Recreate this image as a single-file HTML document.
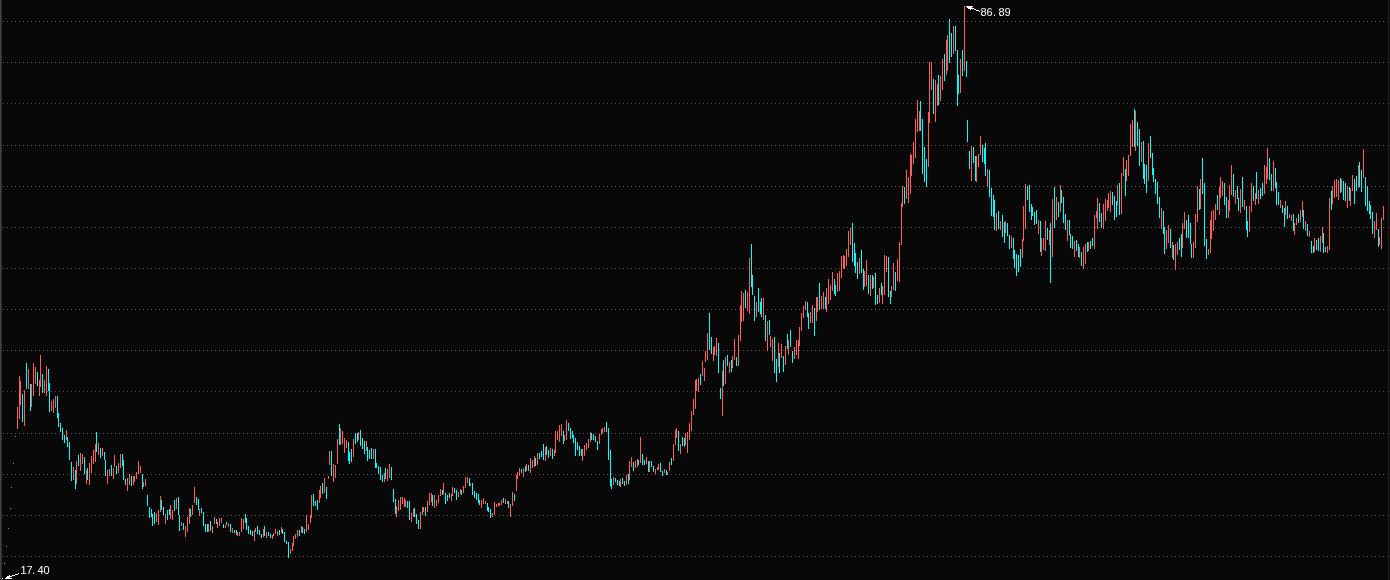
<!DOCTYPE html>
<html lang="zh">
<head>
<meta charset="utf-8">
<title>K线图</title>
<style>
html,body{margin:0;padding:0;background:#080808;}
body{width:1390px;height:580px;overflow:hidden;position:relative;font-family:"Liberation Mono","Noto Sans CJK SC",monospace;}
svg{position:absolute;left:0;top:0;display:block;}
.lbl{font-family:"Liberation Sans","Noto Sans CJK SC",sans-serif;font-size:11px;fill:#ffffff;}
</style>
</head>
<body>
<svg width="1390" height="580" viewBox="0 0 1390 580" shape-rendering="crispEdges">
<rect width="1390" height="580" fill="#080808"/>
<rect x="0" y="0" width="1" height="580" fill="#414141"/><rect x="1" y="0" width="1" height="580" fill="#2e2e2e"/>
<rect x="1388" y="0" width="1" height="580" fill="#1e1e1e"/><path fill="#2a2a2a" d="M1389 21h1v1h-1zM1389 62h1v1h-1zM1389 103h1v1h-1zM1389 145h1v1h-1zM1389 186h1v1h-1zM1389 227h1v1h-1zM1389 268h1v1h-1zM1389 309h1v1h-1zM1389 350h1v1h-1zM1389 391h1v1h-1zM1389 433h1v1h-1zM1389 474h1v1h-1zM1389 515h1v1h-1zM1389 556h1v1h-1z"/>
<g stroke="#505050" stroke-width="1" stroke-dasharray="1 3"><line x1="3" x2="1385" y1="21.5" y2="21.5"/><line x1="3" x2="1385" y1="62.5" y2="62.5"/><line x1="3" x2="1385" y1="103.5" y2="103.5"/><line x1="3" x2="1385" y1="145.5" y2="145.5"/><line x1="3" x2="1385" y1="186.5" y2="186.5"/><line x1="3" x2="1385" y1="227.5" y2="227.5"/><line x1="3" x2="1385" y1="268.5" y2="268.5"/><line x1="3" x2="1385" y1="309.5" y2="309.5"/><line x1="3" x2="1385" y1="350.5" y2="350.5"/><line x1="3" x2="1385" y1="391.5" y2="391.5"/><line x1="3" x2="1385" y1="433.5" y2="433.5"/><line x1="3" x2="1385" y1="474.5" y2="474.5"/><line x1="3" x2="1385" y1="515.5" y2="515.5"/><line x1="3" x2="1385" y1="556.5" y2="556.5"/></g>
<path fill="#ff5c5c" d="M15 436h1v1h-1zM13 463h1v1h-1zM11 487h1v1h-1zM10 508h1v1h-1zM8 528h1v1h-1zM6 546h1v1h-1zM4 563h1v1h-1z"/>
<path fill="#00ffff" d="M22 394v28h1v-28zM26 363v26h1v-26zM30 384v27h1v-27zM37 372v14h1v-14zM42 374v19h1v-19zM48 369v22h1v-22zM49 383v29h1v-29zM57 396v22h1v-22zM58 413v14h1v-14zM60 423v9h1v-9zM62 428v12h1v-12zM64 435v8h1v-8zM67 437v10h1v-10zM69 442v18h1v-18zM71 462v19h1v-19zM75 470v19h1v-19zM78 455v11h1v-11zM84 457v17h1v-17zM87 468v12h1v-12zM96 432v20h1v-20zM100 448v10h1v-10zM104 452v8h1v-8zM105 460v16h1v-16zM111 465v11h1v-11zM116 466v8h1v-8zM122 454v12h1v-12zM123 460v20h1v-20zM125 479v6h1v-6zM131 476v10h1v-10zM142 474v15h1v-15zM147 495v11h1v-11zM149 507v11h1v-11zM151 509v8h1v-8zM152 514v12h1v-12zM154 512v12h1v-12zM161 500v10h1v-10zM163 507v8h1v-8zM167 510v10h1v-10zM169 509v6h1v-6zM174 500v11h1v-11zM178 497v18h1v-18zM179 515v16h1v-16zM183 523v7h1v-7zM190 509v8h1v-8zM196 497v8h1v-8zM198 499v11h1v-11zM201 508v5h1v-5zM203 512v14h1v-14zM205 524v8h1v-8zM207 524v8h1v-8zM210 521v10h1v-10zM216 519v5h1v-5zM223 524v4h1v-4zM226 522v3h1v-3zM230 524v8h1v-8zM234 530v3h1v-3zM236 530v5h1v-5zM245 514v9h1v-9zM246 518v12h1v-12zM248 526v8h1v-8zM250 530v5h1v-5zM252 531v5h1v-5zM257 526v8h1v-8zM259 530v5h1v-5zM261 534v4h1v-4zM264 526v10h1v-10zM268 532v4h1v-4zM270 534v4h1v-4zM279 530v5h1v-5zM282 529v5h1v-5zM284 532v10h1v-10zM286 541v3h1v-3zM288 542v16h1v-16zM299 530v6h1v-6zM302 527v6h1v-6zM304 529v5h1v-5zM313 494v12h1v-12zM315 501v5h1v-5zM317 500v10h1v-10zM322 483v11h1v-11zM326 487v12h1v-12zM331 451v25h1v-25zM339 424v21h1v-21zM348 442v19h1v-19zM349 452v12h1v-12zM351 449v13h1v-13zM355 433v11h1v-11zM357 433v9h1v-9zM360 430v16h1v-16zM362 438v11h1v-11zM364 441v13h1v-13zM367 447v14h1v-14zM369 450v9h1v-9zM371 448v11h1v-11zM375 449v19h1v-19zM376 463v5h1v-5zM378 466v8h1v-8zM380 467v13h1v-13zM382 475v7h1v-7zM385 468v11h1v-11zM391 467v13h1v-13zM393 489v13h1v-13zM395 499v15h1v-15zM407 501v7h1v-7zM409 501v19h1v-19zM414 508v9h1v-9zM416 514v10h1v-10zM418 520v9h1v-9zM425 507v9h1v-9zM432 495v11h1v-11zM442 490v5h1v-5zM445 493v11h1v-11zM447 495v6h1v-6zM449 493v5h1v-5zM454 488v5h1v-5zM456 490v10h1v-10zM461 490v5h1v-5zM469 478v8h1v-8zM472 483v12h1v-12zM474 491v7h1v-7zM476 493v7h1v-7zM478 494v9h1v-9zM479 500v5h1v-5zM487 503v8h1v-8zM488 507v5h1v-5zM490 509v9h1v-9zM503 498v5h1v-5zM508 501v7h1v-7zM514 494v7h1v-7zM521 469v4h1v-4zM525 466v6h1v-6zM528 465v6h1v-6zM535 458v8h1v-8zM539 453v6h1v-6zM541 451v6h1v-6zM543 444v16h1v-16zM546 446v9h1v-9zM548 450v8h1v-8zM552 449v10h1v-10zM563 431v13h1v-13zM568 423v8h1v-8zM570 428v11h1v-11zM572 431v7h1v-7zM573 435v8h1v-8zM575 438v18h1v-18zM577 442v8h1v-8zM579 446v10h1v-10zM581 449v7h1v-7zM591 433v7h1v-7zM593 434v6h1v-6zM595 436v6h1v-6zM597 441v9h1v-9zM606 422v10h1v-10zM608 428v32h1v-32zM610 450v36h1v-36zM611 479v10h1v-10zM615 478v4h1v-4zM617 480v5h1v-5zM619 481v5h1v-5zM622 478v6h1v-6zM624 481v5h1v-5zM628 474v10h1v-10zM633 462v9h1v-9zM638 460v5h1v-5zM642 454v11h1v-11zM644 460v5h1v-5zM648 461v11h1v-11zM651 461v6h1v-6zM653 466v6h1v-6zM660 463v9h1v-9zM662 471v5h1v-5zM666 470v5h1v-5zM671 458v7h1v-7zM678 431v20h1v-20zM682 437v9h1v-9zM684 438v9h1v-9zM700 374v11h1v-11zM709 313v37h1v-37zM711 337v17h1v-17zM718 343v30h1v-30zM720 388v11h1v-11zM723 360v26h1v-26zM727 355v11h1v-11zM731 360v12h1v-12zM736 357v9h1v-9zM745 290v18h1v-18zM751 244v43h1v-43zM752 275v20h1v-20zM754 296v25h1v-25zM758 288v24h1v-24zM760 302v12h1v-12zM761 298v19h1v-19zM765 315v26h1v-26zM769 320v15h1v-15zM774 337v36h1v-36zM776 359v23h1v-23zM779 353v20h1v-20zM783 356v16h1v-16zM787 334v15h1v-15zM790 330v17h1v-17zM792 351v12h1v-12zM807 302v15h1v-15zM808 313v16h1v-16zM814 308v28h1v-28zM819 283v27h1v-27zM825 297v12h1v-12zM834 279v15h1v-15zM835 285v11h1v-11zM852 223v39h1v-39zM854 243v23h1v-23zM855 253v20h1v-20zM857 262v17h1v-17zM861 250v23h1v-23zM863 269v21h1v-21zM868 275v19h1v-19zM872 275v14h1v-14zM875 273v32h1v-32zM877 295v9h1v-9zM881 283v12h1v-12zM888 257v40h1v-40zM890 291v13h1v-13zM895 272v19h1v-19zM904 187v17h1v-17zM920 101v30h1v-30zM922 119v55h1v-55zM924 147v35h1v-35zM926 159v28h1v-28zM933 79v35h1v-35zM938 75v30h1v-30zM944 54v27h1v-27zM949 19v44h1v-44zM951 33v24h1v-24zM955 26v25h1v-25zM957 50v56h1v-56zM958 75v19h1v-19zM962 50v26h1v-26zM966 61v16h1v-16zM967 120v22h1v-22zM969 151v18h1v-18zM973 147v16h1v-16zM975 156v25h1v-25zM982 145v17h1v-17zM984 148v16h1v-16zM985 143v33h1v-33zM989 170v27h1v-27zM991 188v28h1v-28zM993 195v22h1v-22zM994 200v30h1v-30zM998 211v18h1v-18zM1002 215v22h1v-22zM1004 222v21h1v-21zM1007 223v13h1v-13zM1009 235v14h1v-14zM1013 238v21h1v-21zM1014 250v18h1v-18zM1016 254v22h1v-22zM1018 255v17h1v-17zM1020 249v18h1v-18zM1027 186v14h1v-14zM1029 185v27h1v-27zM1031 204v16h1v-16zM1032 207v9h1v-9zM1034 212v13h1v-13zM1036 210v14h1v-14zM1040 221v31h1v-31zM1047 228v12h1v-12zM1050 223v60h1v-60zM1054 187v41h1v-41zM1058 202v15h1v-15zM1061 190v13h1v-13zM1063 197v26h1v-26zM1065 214v16h1v-16zM1069 220v15h1v-15zM1070 234v14h1v-14zM1072 236v13h1v-13zM1076 240v11h1v-11zM1078 244v13h1v-13zM1081 252v14h1v-14zM1087 242v10h1v-10zM1090 241v8h1v-8zM1092 238v8h1v-8zM1099 203v19h1v-19zM1101 213v15h1v-15zM1112 192v13h1v-13zM1114 196v24h1v-24zM1116 201v16h1v-16zM1119 183v32h1v-32zM1125 169v27h1v-27zM1134 109v38h1v-38zM1137 122v24h1v-24zM1139 129v37h1v-37zM1143 141v38h1v-38zM1144 164v20h1v-20zM1146 165v28h1v-28zM1150 136v22h1v-22zM1152 153v22h1v-22zM1153 168v14h1v-14zM1155 179v15h1v-15zM1157 182v22h1v-22zM1159 197v21h1v-21zM1163 211v23h1v-23zM1164 227v27h1v-27zM1170 229v19h1v-19zM1173 245v15h1v-15zM1179 238v12h1v-12zM1181 234v23h1v-23zM1186 220v18h1v-18zM1188 215v23h1v-23zM1190 223v21h1v-21zM1191 244v14h1v-14zM1199 189v21h1v-21zM1202 158v36h1v-36zM1204 183v63h1v-63zM1206 239v20h1v-20zM1217 195v15h1v-15zM1224 183v22h1v-22zM1226 197v21h1v-21zM1233 174v23h1v-23zM1237 186v13h1v-13zM1238 198v13h1v-13zM1242 177v30h1v-30zM1246 206v24h1v-24zM1247 221v16h1v-16zM1253 186v15h1v-15zM1256 172v27h1v-27zM1260 188v11h1v-11zM1262 183v13h1v-13zM1269 158v22h1v-22zM1271 174v17h1v-17zM1275 168v20h1v-20zM1276 182v23h1v-23zM1278 192v13h1v-13zM1282 205v8h1v-8zM1284 208v19h1v-19zM1287 206v13h1v-13zM1293 214v17h1v-17zM1298 214v9h1v-9zM1303 210v19h1v-19zM1307 224v12h1v-12zM1311 241v12h1v-12zM1313 246v7h1v-7zM1316 240v10h1v-10zM1318 238v13h1v-13zM1323 233v20h1v-20zM1325 247v5h1v-5zM1331 191v19h1v-19zM1340 178v15h1v-15zM1343 181v19h1v-19zM1345 183v18h1v-18zM1349 187v14h1v-14zM1354 179v25h1v-25zM1356 176v15h1v-15zM1359 162v25h1v-25zM1361 170v22h1v-22zM1365 177v29h1v-29zM1367 186v25h1v-25zM1369 201v13h1v-13zM1370 205v14h1v-14zM1372 212v22h1v-22zM1378 229v18h1v-18z"/>
<path fill="#ff5c5c" d="M17 407v22h1v-22zM19 376v43h1v-43zM20 381v24h1v-24zM24 390v36h1v-36zM28 369v20h1v-20zM31 384v23h1v-23zM33 363v33h1v-33zM35 367v17h1v-17zM39 380v16h1v-16zM40 355v32h1v-32zM44 380v13h1v-13zM46 366v30h1v-30zM51 401v10h1v-10zM53 399v14h1v-14zM55 396v12h1v-12zM66 430v10h1v-10zM73 467v13h1v-13zM76 461v23h1v-23zM80 453v18h1v-18zM82 454v10h1v-10zM86 470v14h1v-14zM89 463v22h1v-22zM91 456v17h1v-17zM93 450v14h1v-14zM95 444v18h1v-18zM98 443v12h1v-12zM102 448v8h1v-8zM107 470v14h1v-14zM109 469v7h1v-7zM113 468v11h1v-11zM114 455v12h1v-12zM118 463v10h1v-10zM120 454v14h1v-14zM127 478v13h1v-13zM129 474v11h1v-11zM133 476v9h1v-9zM134 476v6h1v-6zM136 472v7h1v-7zM138 461v13h1v-13zM140 466v7h1v-7zM143 482v5h1v-5zM145 479v7h1v-7zM156 513v9h1v-9zM158 510v15h1v-15zM160 496v16h1v-16zM165 514v10h1v-10zM170 505v14h1v-14zM172 510v10h1v-10zM176 498v11h1v-11zM181 522v4h1v-4zM185 526v11h1v-11zM187 517v15h1v-15zM189 508v16h1v-16zM192 505v10h1v-10zM194 487v16h1v-16zM199 509v7h1v-7zM208 524v8h1v-8zM212 526v7h1v-7zM214 517v7h1v-7zM217 522v6h1v-6zM219 518v8h1v-8zM221 518v5h1v-5zM225 525v3h1v-3zM228 523v4h1v-4zM232 528v5h1v-5zM237 532v4h1v-4zM239 532v4h1v-4zM241 518v14h1v-14zM243 519v10h1v-10zM254 530v11h1v-11zM255 528v4h1v-4zM263 529v8h1v-8zM266 532v6h1v-6zM272 535v4h1v-4zM273 533v3h1v-3zM275 529v5h1v-5zM277 531v5h1v-5zM281 527v6h1v-6zM290 549v5h1v-5zM292 543v8h1v-8zM293 536v10h1v-10zM295 534v5h1v-5zM297 530v7h1v-7zM301 526v7h1v-7zM306 515v17h1v-17zM308 524v6h1v-6zM310 515v8h1v-8zM311 495v23h1v-23zM319 490v13h1v-13zM320 486v12h1v-12zM324 478v15h1v-15zM328 476v3h1v-3zM329 451v14h1v-14zM333 464v18h1v-18zM335 465v13h1v-13zM337 439v25h1v-25zM340 428v17h1v-17zM342 431v13h1v-13zM344 438v15h1v-15zM346 440v8h1v-8zM353 439v18h1v-18zM358 432v8h1v-8zM366 441v10h1v-10zM373 449v10h1v-10zM384 473v9h1v-9zM387 469v12h1v-12zM389 464v14h1v-14zM396 506v11h1v-11zM398 500v11h1v-11zM400 497v13h1v-13zM402 497v7h1v-7zM404 498v9h1v-9zM405 500v7h1v-7zM411 513v9h1v-9zM413 509v8h1v-8zM420 512v17h1v-17zM422 507v8h1v-8zM423 507v5h1v-5zM427 501v11h1v-11zM429 493v12h1v-12zM431 493v9h1v-9zM434 495v13h1v-13zM436 500v6h1v-6zM438 495v8h1v-8zM440 489v7h1v-7zM443 483v11h1v-11zM451 494v7h1v-7zM452 487v9h1v-9zM458 492v5h1v-5zM460 489v5h1v-5zM463 486v7h1v-7zM465 477v11h1v-11zM467 477v6h1v-6zM470 483v3h1v-3zM481 500v8h1v-8zM483 498v6h1v-6zM485 501v3h1v-3zM492 513v4h1v-4zM494 502v13h1v-13zM496 504v3h1v-3zM498 503v3h1v-3zM499 503v3h1v-3zM501 500v5h1v-5zM505 499v5h1v-5zM507 501v3h1v-3zM510 504v13h1v-13zM512 492v14h1v-14zM516 475v16h1v-16zM517 472v7h1v-7zM519 468v8h1v-8zM523 468v9h1v-9zM526 464v7h1v-7zM530 458v15h1v-15zM532 460v8h1v-8zM534 456v11h1v-11zM537 453v12h1v-12zM545 447v14h1v-14zM550 448v8h1v-8zM554 450v6h1v-6zM555 431v22h1v-22zM557 431v9h1v-9zM559 425v17h1v-17zM561 424v12h1v-12zM564 435v6h1v-6zM566 420v20h1v-20zM582 449v12h1v-12zM584 445v11h1v-11zM586 443v7h1v-7zM588 439v9h1v-9zM590 432v10h1v-10zM599 434v10h1v-10zM601 429v6h1v-6zM602 428v5h1v-5zM604 427v5h1v-5zM613 477v8h1v-8zM620 479v8h1v-8zM626 475v10h1v-10zM629 461v19h1v-19zM631 457v10h1v-10zM635 461v7h1v-7zM637 459v8h1v-8zM640 437v26h1v-26zM646 457v7h1v-7zM649 461v11h1v-11zM655 469v5h1v-5zM657 467v3h1v-3zM658 464v6h1v-6zM664 469v4h1v-4zM667 472v3h1v-3zM669 462v9h1v-9zM673 444v17h1v-17zM675 430v15h1v-15zM676 428v10h1v-10zM680 444v10h1v-10zM685 433v12h1v-12zM687 432v21h1v-21zM689 423v17h1v-17zM691 411v20h1v-20zM693 399v16h1v-16zM695 380v29h1v-29zM696 379v12h1v-12zM698 378v14h1v-14zM702 361v15h1v-15zM704 368v13h1v-13zM705 351v11h1v-11zM707 333v27h1v-27zM713 347v14h1v-14zM714 346v9h1v-9zM716 338v18h1v-18zM722 371v45h1v-45zM725 357v27h1v-27zM729 362v11h1v-11zM732 356v12h1v-12zM734 339v21h1v-21zM738 335v31h1v-31zM740 305v36h1v-36zM741 291v31h1v-31zM743 293v28h1v-28zM747 292v19h1v-19zM749 258v56h1v-56zM756 302v15h1v-15zM763 298v22h1v-22zM767 321v30h1v-30zM770 336v11h1v-11zM772 339v22h1v-22zM778 343v24h1v-24zM781 344v14h1v-14zM785 346v19h1v-19zM788 340v15h1v-15zM794 347v12h1v-12zM796 340v15h1v-15zM798 340v19h1v-19zM799 327v19h1v-19zM801 313v18h1v-18zM803 306v12h1v-12zM805 301v9h1v-9zM810 312v11h1v-11zM812 305v18h1v-18zM816 297v24h1v-24zM817 297v15h1v-15zM821 296v13h1v-13zM823 292v17h1v-17zM826 288v24h1v-24zM828 279v25h1v-25zM830 285v15h1v-15zM832 272v19h1v-19zM837 273v19h1v-19zM839 271v20h1v-20zM841 256v22h1v-22zM843 255v14h1v-14zM844 256v13h1v-13zM846 249v17h1v-17zM848 231v26h1v-26zM850 228v17h1v-17zM859 258v16h1v-16zM864 271v16h1v-16zM866 260v26h1v-26zM870 275v21h1v-21zM873 277v11h1v-11zM879 288v15h1v-15zM882 286v18h1v-18zM884 255v40h1v-40zM886 256v16h1v-16zM891 286v11h1v-11zM893 263v27h1v-27zM897 259v22h1v-22zM899 242v40h1v-40zM901 203v42h1v-42zM902 186v21h1v-21zM906 170v29h1v-29zM908 177v26h1v-26zM910 154v40h1v-40zM911 155v21h1v-21zM913 142v22h1v-22zM915 119v39h1v-39zM917 100v32h1v-32zM919 111v20h1v-20zM928 112v55h1v-55zM929 62v61h1v-61zM931 62v28h1v-28zM935 80v42h1v-42zM937 84v22h1v-22zM940 76v25h1v-25zM942 59v31h1v-31zM946 40v35h1v-35zM947 35v36h1v-36zM953 26v28h1v-28zM960 59v34h1v-34zM964 6v65h1v-65zM971 146v35h1v-35zM976 156v26h1v-26zM978 154v13h1v-13zM980 136v19h1v-19zM987 169v18h1v-18zM996 213v18h1v-18zM1000 221v9h1v-9zM1005 221v12h1v-12zM1011 236v12h1v-12zM1022 239v19h1v-19zM1023 206v35h1v-35zM1025 184v45h1v-45zM1038 220v14h1v-14zM1041 238v18h1v-18zM1043 238v12h1v-12zM1045 221v30h1v-30zM1049 230v15h1v-15zM1052 199v58h1v-58zM1056 197v23h1v-23zM1060 185v27h1v-27zM1067 220v21h1v-21zM1074 241v16h1v-16zM1079 247v11h1v-11zM1083 247v22h1v-22zM1085 244v20h1v-20zM1088 242v9h1v-9zM1094 215v34h1v-34zM1096 211v7h1v-7zM1097 198v31h1v-31zM1103 204v25h1v-25zM1105 199v22h1v-22zM1107 200v11h1v-11zM1108 193v15h1v-15zM1110 191v21h1v-21zM1117 185v20h1v-20zM1121 173v41h1v-41zM1123 157v19h1v-19zM1126 160v21h1v-21zM1128 155v21h1v-21zM1130 124v32h1v-32zM1132 120v27h1v-27zM1135 111v40h1v-40zM1141 142v20h1v-20zM1148 143v38h1v-38zM1161 208v21h1v-21zM1166 230v19h1v-19zM1168 225v18h1v-18zM1172 242v16h1v-16zM1175 244v26h1v-26zM1177 242v13h1v-13zM1182 223v25h1v-25zM1184 212v17h1v-17zM1193 242v16h1v-16zM1195 214v34h1v-34zM1197 186v36h1v-36zM1200 179v30h1v-30zM1208 249v6h1v-6zM1210 220v33h1v-33zM1211 211v28h1v-28zM1213 210v21h1v-21zM1215 204v16h1v-16zM1219 187v28h1v-28zM1220 177v21h1v-21zM1222 181v15h1v-15zM1228 200v18h1v-18zM1229 185v26h1v-26zM1231 165v30h1v-30zM1235 190v14h1v-14zM1240 189v24h1v-24zM1244 200v10h1v-10zM1249 206v26h1v-26zM1251 183v29h1v-29zM1255 193v12h1v-12zM1258 190v14h1v-14zM1264 165v29h1v-29zM1266 167v17h1v-17zM1267 148v31h1v-31zM1273 161v30h1v-30zM1280 200v8h1v-8zM1285 201v14h1v-14zM1289 214v4h1v-4zM1291 215v6h1v-6zM1294 223v12h1v-12zM1296 218v7h1v-7zM1300 210v12h1v-12zM1302 201v16h1v-16zM1305 221v10h1v-10zM1309 231v6h1v-6zM1314 238v14h1v-14zM1320 236v16h1v-16zM1322 227v16h1v-16zM1327 246v7h1v-7zM1329 198v52h1v-52zM1332 186v18h1v-18zM1334 180v18h1v-18zM1336 179v18h1v-18zM1338 180v20h1v-20zM1341 179v13h1v-13zM1347 186v22h1v-22zM1350 188v18h1v-18zM1352 175v16h1v-16zM1358 165v23h1v-23zM1363 149v29h1v-29zM1374 221v17h1v-17zM1376 213v17h1v-17zM1379 237v8h1v-8zM1381 218v31h1v-31zM1383 206v14h1v-14z"/>
<path fill="#ffffff" shape-rendering="crispEdges" d="M966 6h7v1h-7zM967 7h5v1h-5zM968 8h6v1h-6zM970 9h1v1h-1zM974 9h2v1h-2zM976 10h3v1h-3zM979 11h1v1h-1zM2 578h1v1h-1zM5 578h7v1h-7zM6 577h4v1h-4zM7 576h5v1h-5zM9 575h1v1h-1zM12 575h3v1h-3zM15 574h3v1h-3zM18 573h1v1h-1z"/>
<g id="labels" shape-rendering="auto" style="opacity:0.999;will-change:opacity">
<text class="lbl" y="16" x="980.4 986.4 992.9 998.4 1004.4">86.89</text>
<text class="lbl" y="574" x="20.4 26.4 31.9 37.6 43.6">17.40</text>
</g>
</svg>
</body>
</html>
